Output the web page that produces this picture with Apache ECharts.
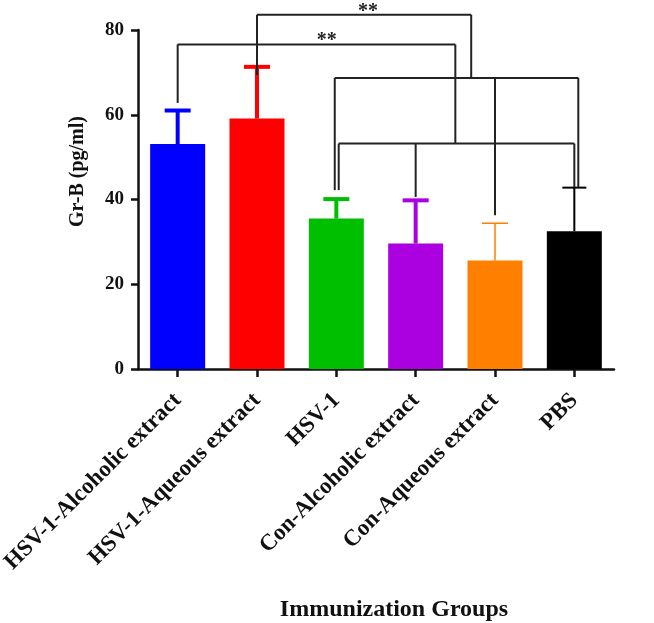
<!DOCTYPE html>
<html>
<head>
<meta charset="utf-8">
<script src="https://cdn.jsdelivr.net/npm/echarts@6/dist/echarts.min.js"></script>
<style>html,body{margin:0;padding:0;background:#fff}#c{width:654px;height:623px}</style>
</head>
<body>
<div id="c"></div>
<script>
const categories = ['HSV-1-Alcoholic extract','HSV-1-Aqueous extract','HSV-1','Con-Alcoholic extract','Con-Aqueous extract','PBS'];
const means = [53.1, 59.1, 35.5, 29.6, 25.6, 32.5];
const sds = [7.9, 12.2, 4.6, 10.2, 8.8, 10.3];
const barColors = ['#0000ff','#ff0000','#00bf00','#ab00e0','#ff8000','#000000'];
const yTicks = [0, 20, 40, 60, 80];
// significance bracket segments: [x1 (category pos), y1, x2, y2]
const bracketSegments = [
  // lower ** : HSV-1-Alcoholic vs group (HSV-1..PBS)
  [0, 62.8, 0, 76.6],
  [0, 76.6, 3.5, 76.6],
  [3.5, 76.6, 3.5, 53.2],
  [2.03, 53.2, 5.0, 53.2],
  [2.03, 53.2, 2.03, 42.2],
  [3.0, 53.2, 3.0, 40.6],
  [5.0, 53.2, 5.0, 42.9],
  // upper ** : HSV-1-Aqueous vs group
  [1, 69.4, 1, 83.6],
  [1, 83.6, 3.7, 83.6],
  [3.7, 83.6, 3.7, 68.7],
  [1.98, 68.7, 5.05, 68.7],
  [1.98, 68.7, 1.98, 42.2],
  [4.0, 68.7, 4.0, 36.3],
  [5.05, 68.7, 5.05, 42.9]
];
const starLabels = [['**', 1.88, 77.4], ['**', 2.4, 84.4]];

const errLineWidths = [4, 4, 4, 4, 1.5, 2];
const errCapWidths = [26, 26, 26, 26, 26, 24];

const chart = echarts.init(document.getElementById('c'));
const serif = 'Liberation Serif';

function posX(api, x, y) {
  const base = api.coord([0, y]);
  const bw = api.size([1, 0])[0];
  return [base[0] + x * bw, base[1]];
}

chart.setOption({
  animation: false,
  grid: { left: 138, width: 476, top: 30, height: 339, containLabel: false, outerBoundsMode: 'none' },
  xAxis: {
    type: 'category',
    data: categories,
    name: 'Immunization Groups',
    nameLocation: 'middle',
    nameGap: 229,
    nameTextStyle: { fontFamily: serif, fontWeight: 'bold', fontSize: 24, color: '#111', padding: [0, 0, 0, 36] },
    axisLine: { lineStyle: { color: '#111', width: 2.5 } },
    axisTick: { show: true, alignWithLabel: true, length: 8, lineStyle: { color: '#111', width: 2.5 } },
    axisLabel: { interval: 0, rotate: 45, fontFamily: serif, fontWeight: 'bold', fontSize: 23, color: '#111', margin: 28 }
  },
  yAxis: {
    type: 'value',
    min: 0, max: 80, interval: 20,
    name: 'Gr-B (pg/ml)',
    nameLocation: 'middle',
    nameGap: 50,
    nameTextStyle: { fontFamily: serif, fontWeight: 'bold', fontSize: 20, color: '#111', padding: [0, 0, 0, 56] },
    axisLine: { show: true, lineStyle: { color: '#111', width: 2.5 } },
    axisTick: { show: true, length: 7, lineStyle: { color: '#111', width: 2.5 } },
    splitLine: { show: false },
    axisLabel: {
      fontFamily: serif, fontWeight: 'bold', fontSize: 19, color: '#111', margin: 14,
      formatter: v => yTicks.indexOf(v) >= 0 ? String(v) : ''
    }
  },
  series: [
    {
      type: 'bar',
      barWidth: 55,
      data: means.map((v, i) => ({ value: v, itemStyle: { color: barColors[i] } })),
      z: 2
    },
    {
      type: 'custom',
      z: 3,
      data: means.map((v, i) => [i, v, v + sds[i]]),
      renderItem: function (params, api) {
        const i = api.value(0);
        const lo = api.coord([i, api.value(1)]);
        const hi = api.coord([i, api.value(2)]);
        const w = errLineWidths[i];
        const cw = errCapWidths[i];
        const style = { stroke: barColors[i], lineWidth: w };
        return {
          type: 'group',
          children: [
            { type: 'line', shape: { x1: hi[0], y1: lo[1], x2: hi[0], y2: hi[1] }, style: style },
            { type: 'line', shape: { x1: hi[0] - cw / 2, y1: hi[1], x2: hi[0] + cw / 2, y2: hi[1] }, style: style }
          ]
        };
      }
    },
    {
      type: 'custom',
      z: 4,
      clip: false,
      data: bracketSegments,
      renderItem: function (params, api) {
        const p1 = posX(api, api.value(0), api.value(1));
        const p2 = posX(api, api.value(2), api.value(3));
        return {
          type: 'line',
          shape: { x1: p1[0], y1: p1[1], x2: p2[0], y2: p2[1] },
          style: { stroke: '#222', lineWidth: 2 }
        };
      }
    },
    {
      type: 'custom',
      z: 5,
      clip: false,
      data: starLabels.map(s => [s[1], s[2]]),
      renderItem: function (params, api) {
        const p = posX(api, api.value(0), api.value(1));
        return {
          type: 'text',
          x: p[0], y: p[1],
          style: { text: starLabels[params.dataIndex][0], fontFamily: serif, fontWeight: 'bold', fontSize: 20, fill: '#222', align: 'center', verticalAlign: 'middle' }
        };
      }
    }
  ]
});
</script>
</body>
</html>
